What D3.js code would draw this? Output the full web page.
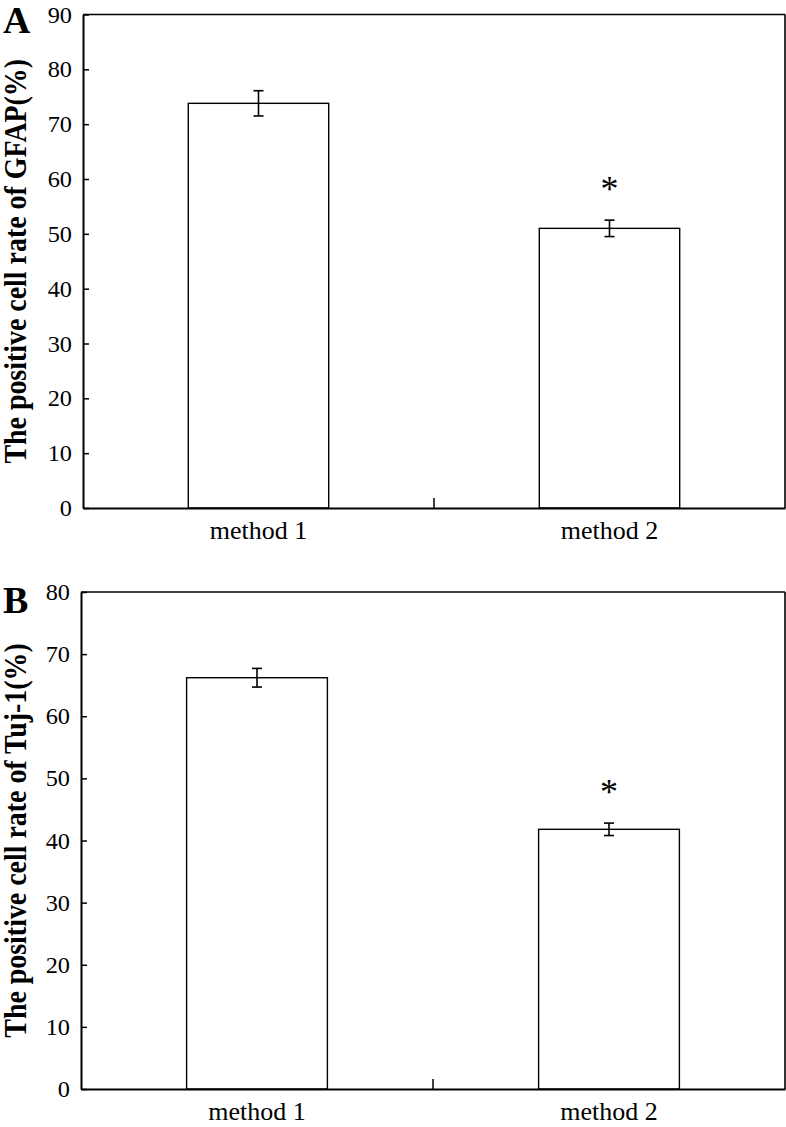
<!DOCTYPE html>
<html><head><meta charset="utf-8">
<script src="https://cdn.jsdelivr.net/npm/d3@7/dist/d3.min.js"></script>
<style>body{margin:0;background:#fff}svg{display:block}text{font-family:"Liberation Serif","Times New Roman",Times,serif;fill:#000}</style>
</head><body>
<svg id="c" width="786" height="1127"></svg>
<script>
const categories = ["method 1", "method 2"];
const gfapMeans = [73.8, 51.0];
const gfapErrors = [2.3, 1.5];
const gfapTicks = [0, 10, 20, 30, 40, 50, 60, 70, 80, 90];
const tujMeans = [66.2, 41.8];
const tujErrors = [1.5, 1.0];
const tujTicks = [0, 10, 20, 30, 40, 50, 60, 70, 80];
const significant = [false, true];

const svg = d3.select("#c");
const FONT = '"Liberation Serif","Times New Roman",Times,serif';

function panel(cfg) {
  const {left, right, top, bottom, means, errors, ticks, yMax, title, letter, letterY} = cfg;
  const g = svg.append("g");
  const x = d3.scaleBand().domain(categories).range([left, right]).paddingInner(0.6).paddingOuter(0.3);
  const y = d3.scaleLinear().domain([0, yMax]).range([bottom, top]);

  // bars
  g.selectAll("rect.bar").data(categories).enter().append("rect")
    .attr("x", d => x(d)).attr("width", x.bandwidth())
    .attr("y", (d, i) => y(means[i])).attr("height", (d, i) => y(0) - y(means[i]))
    .attr("fill", "#fff").attr("stroke", "#000").attr("stroke-width", 1.4);

  // error bars
  categories.forEach((c, i) => {
    const cx = x(c) + x.bandwidth() / 2;
    const hi = y(means[i] + errors[i]), lo = y(means[i] - errors[i]);
    g.append("line").attr("x1", cx).attr("x2", cx).attr("y1", hi).attr("y2", lo).attr("stroke", "#000").attr("stroke-width", 1.6);
    [hi, lo].forEach(v => g.append("line").attr("x1", cx - 5).attr("x2", cx + 5).attr("y1", v).attr("y2", v).attr("stroke", "#000").attr("stroke-width", 1.6));
    if (significant[i]) {
      g.append("text").attr("x", cx).attr("y", hi - 19).attr("text-anchor", "middle")
        .style("font-size", "36px").style("font-family", FONT).text("*");
    }
  });

  // frame top/right
  g.append("line").attr("x1", left).attr("x2", right).attr("y1", top).attr("y2", top).attr("stroke", "#000").attr("stroke-width", 1.6);
  g.append("line").attr("x1", right).attr("x2", right).attr("y1", top).attr("y2", bottom).attr("stroke", "#000").attr("stroke-width", 1.6);

  // left axis with inward ticks
  const ya = d3.axisLeft(y).tickValues(ticks).tickSize(0).tickPadding(0).tickFormat(d3.format("d"));
  const ag = g.append("g").attr("transform", `translate(${left},0)`).call(ya);
  ag.attr("font-family", FONT);
  ag.select(".domain").attr("stroke", "#000").attr("stroke-width", 2);
  ag.selectAll(".tick line").attr("x2", 6).attr("stroke", "#000").attr("stroke-width", 1.5);
  ag.selectAll(".tick text").attr("x", 0).attr("dy", null)
    .attr("transform", "translate(-11,7.5) scale(1.08,1)")
    .style("font-size", "22.5px").style("font-family", FONT).attr("text-anchor", "end");

  // bottom axis
  const xa = d3.axisBottom(x).tickSize(0).tickPadding(0);
  const bg = g.append("g").attr("transform", `translate(0,${bottom})`).call(xa);
  bg.attr("font-family", FONT);
  bg.select(".domain").attr("stroke", "#000").attr("stroke-width", 2);
  bg.selectAll(".tick text").attr("y", 0).attr("dy", null)
    .style("font-size", "24.5px").style("font-family", FONT)
    .attr("transform", "translate(0,31) scale(1.06,1)").attr("text-anchor", "middle");
  // separator tick between groups
  const sep = (x(categories[0]) + x.bandwidth() + x(categories[1])) / 2;
  g.append("line").attr("x1", sep).attr("x2", sep).attr("y1", bottom).attr("y2", bottom - 10).attr("stroke", "#000").attr("stroke-width", 1.5);

  // y title
  const cy = (top + bottom) / 2;
  g.append("text").attr("transform", `translate(26,${cy}) rotate(-90) scale(0.9,1)`).attr("text-anchor", "middle")
    .style("font-size", "31px").style("font-weight", "bold").style("font-family", FONT).text(title);

  // panel letter
  g.append("text").attr("x", 3).attr("y", letterY).style("font-size", "38px").style("font-weight", "bold").style("font-family", FONT).text(letter);
}

panel({left: 83, right: 785, top: 14.5, bottom: 508, means: gfapMeans, errors: gfapErrors, ticks: gfapTicks, yMax: 90,
  title: "The positive cell rate of GFAP(%)", letter: "A", letterY: 33});
panel({left: 81, right: 785, top: 592, bottom: 1089, means: tujMeans, errors: tujErrors, ticks: tujTicks, yMax: 80,
  title: "The positive cell rate of Tuj-1(%)", letter: "B", letterY: 613});
</script>
</body></html>
